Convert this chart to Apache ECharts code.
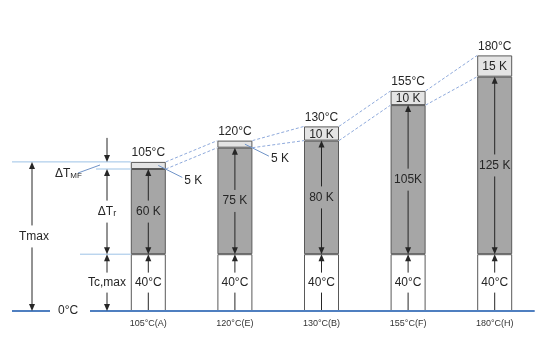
<!DOCTYPE html>
<html>
<head>
<meta charset="utf-8">
<script src="https://cdn.jsdelivr.net/npm/echarts@6/dist/echarts.min.js"></script>
<style>
html,body{margin:0;padding:0;background:#fff;}
#chart{width:550px;height:355px;}
</style>
</head>
<body>
<div id="chart"></div>
<script>
// data
var categories = ['105°C(A)', '120°C(E)', '130°C(B)', '155°C(F)', '180°C(H)'];
var coolant = [40, 40, 40, 40, 40];          // Tc,max
var rise = [60, 75, 80, 105, 125];           // ΔTr
var margin = [5, 5, 10, 10, 15];             // ΔTMF
var maxTemp = [105, 120, 130, 155, 180];     // Tmax
var riseLabels = ['60 K', '75 K', '80 K', '105K', '125 K'];
var marginLabels = ['5 K', '5 K', '10 K', '10 K', '15 K'];

var grayTop = rise.map(function (r, i) { return coolant[i] + r })

var FONT = 'Liberation Sans'
var TXT = '#262626'
var EDGE = '#595959'
var BLUE = '#4f7fc0'
var LIGHT_BLUE = '#9dc3e6'
var DASH = '#8faadc'
var HALF = 17.5

function head (x, y, dir) { // dir -1 = up, 1 = down, tip at (x,y)
  return { type: 'polygon', shape: { points: [[x, y], [x - 3, y - dir * 7], [x + 3, y - dir * 7]] }, style: { fill: TXT } }
}
function seg (x1, y1, x2, y2, color, w, dash) {
  return { type: 'line', shape: { x1: x1, y1: y1, x2: x2, y2: y2 }, style: { stroke: color || TXT, lineWidth: w || 1, lineDash: dash || null } }
}
function txt (x, y, s, align, size) {
  return { type: 'text', style: { text: s, x: x, y: y, align: align || 'center', verticalAlign: 'middle', font: (size || 12) + 'px ' + FONT, fill: TXT } }
}
// vertical line with a gap for a label
function gapLine (x, yA, yB, mid, g) {
  var top = Math.min(yA, yB), bot = Math.max(yA, yB)
  return [seg(x, top, x, mid - g), seg(x, mid + g, x, bot)]
}

var chart = echarts.init(document.getElementById('chart'))

var option = {
  backgroundColor: '#fff',
  animation: false,
  grid: { left: 105, right: 12, top: 27, bottom: 44 },
  xAxis: {
    type: 'category',
    data: categories,
    axisLine: { show: false },
    axisTick: { show: false },
    axisLabel: { fontSize: 9, fontFamily: FONT, color: '#333', margin: 8 }
  },
  yAxis: { type: 'value', min: 0, max: 200, show: false },
  series: [
    {
      name: 'Tc,max', type: 'bar', stack: 't', barWidth: 35, z: 2,
      itemStyle: { color: '#fff', borderColor: EDGE, borderWidth: 1 },
      data: coolant
    },
    {
      name: 'ΔTr', type: 'bar', stack: 't', barWidth: 35, z: 2,
      itemStyle: { color: '#a6a6a6', borderColor: EDGE, borderWidth: 1 },
      data: rise
    },
    {
      name: 'ΔTMF', type: 'bar', stack: 't', barWidth: 35, z: 2,
      itemStyle: { color: '#e4e4e4', borderColor: EDGE, borderWidth: 1 },
      label: {
        show: true, position: 'top', distance: 3,
        fontSize: 12, fontFamily: FONT, color: TXT,
        formatter: function (p) { return maxTemp[p.dataIndex] + '°C' }
      },
      data: margin
    },
    {
      // dashed lines between bar tops
      type: 'custom', z: 1, silent: true,
      data: [[0, 0], [1, 0], [2, 0], [3, 0]],
      renderItem: function (params, api) {
        var i = params.dataIndex
        var a1 = api.coord([i, maxTemp[i]]), b1 = api.coord([i + 1, maxTemp[i + 1]])
        var a2 = api.coord([i, grayTop[i]]), b2 = api.coord([i + 1, grayTop[i + 1]])
        return { type: 'group', children: [
          seg(a1[0] + HALF, a1[1], b1[0] - HALF, b1[1], DASH, 1, [3, 2]),
          seg(a2[0] + HALF, a2[1], b2[0] - HALF, b2[1], DASH, 1, [3, 2])
        ] }
      }
    },
    {
      // arrows and values inside the bars
      type: 'custom', z: 5, silent: true,
      data: categories.map(function (c, i) { return [i, 0] }),
      renderItem: function (params, api) {
        var i = params.dataIndex
        var p0 = api.coord([i, 0])
        var x = p0[0], y0 = p0[1]
        var y40 = api.coord([i, coolant[i]])[1]
        var yG = api.coord([i, grayTop[i]])[1]
        var yM = api.coord([i, maxTemp[i]])[1]
        var mW = (y0 + y40) / 2, mG = (y40 + yG) / 2, mT = (yG + yM) / 2
        var ch = []
        ch = ch.concat(gapLine(x, y0, y40 + 6, mW, 10))
        ch.push(head(x, y40, -1))
        ch = ch.concat(gapLine(x, yG + 6, y40 - 6, mG, 11))
        ch.push(head(x, yG, -1), head(x, y40, 1))
        ch.push(txt(x, mW, coolant[i] + '°C'))
        ch.push(txt(x, mG, riseLabels[i]))
        if (margin[i] >= 10) {
          ch.push(txt(x, mT + 1, marginLabels[i]))
        } else {
          ch.push(seg(x + 10, mT, x + 34, mT + 12, '#6f93c8', 1))
          ch.push(txt(x + 36, mT + 15, marginLabels[i], 'left'))
        }
        return { type: 'group', children: ch }
      }
    },
    {
      // left side explanation
      type: 'custom', z: 5, silent: true,
      data: [[0, 0]],
      renderItem: function (params, api) {
        var p0 = api.coord([0, 0])
        var y0 = p0[1]
        var barL = p0[0] - HALF
        var yMax = api.coord([0, maxTemp[0]])[1]
        var yG = api.coord([0, grayTop[0]])[1]
        var y40 = api.coord([0, coolant[0]])[1]
        var xR = api.coord([categories.length - 1, 0])[0] + 40
        var ax = 32, cx = 107
        var ch = [
          seg(12, yMax, barL, yMax, LIGHT_BLUE, 1),
          seg(96, yG, barL, yG, LIGHT_BLUE, 1),
          seg(80, y40, barL, y40, LIGHT_BLUE, 1),
          seg(12, y0, 50, y0, BLUE, 2),
          seg(90, y0, xR, y0, BLUE, 2)
        ]
        // Tmax
        ch = ch.concat(gapLine(ax, yMax + 6, y0 - 6, (yMax + y0) / 2, 11))
        ch.push(head(ax, yMax, -1), head(ax, y0, 1))
        ch.push(txt(ax + 2, (yMax + y0) / 2, 'Tmax'))
        // ΔTMF
        ch.push(seg(cx, yMax - 24, cx, yMax - 6), head(cx, yMax, 1), head(cx, yG, -1))
        ch.push(seg(78, yG + 4, 100, yG - 4, '#6f93c8', 1))
        ch.push({ type: 'text', style: {
          text: '{a|ΔT}{b|MF}', x: 55, y: yG + 5, align: 'left', verticalAlign: 'middle',
          rich: { a: { font: '12px ' + FONT, fill: TXT }, b: { font: '8px ' + FONT, fill: TXT, padding: [4, 0, 0, 0] } }
        } })
        // ΔTr
        var mG = (yG + y40) / 2
        ch = ch.concat(gapLine(cx, yG + 6, y40 - 6, mG, 11))
        ch.push(head(cx, y40, 1))
        ch.push({ type: 'text', style: {
          text: '{a|ΔT}{b|r}', x: cx, y: mG, align: 'center', verticalAlign: 'middle',
          rich: { a: { font: '12px ' + FONT, fill: TXT }, b: { font: '9px ' + FONT, fill: TXT, padding: [3, 0, 0, 0] } }
        } })
        // Tc,max
        var mW = (y40 + y0) / 2
        ch = ch.concat(gapLine(cx, y40 + 6, y0 - 6, mW, 10))
        ch.push(head(cx, y40, -1), head(cx, y0, 1))
        ch.push(txt(cx, mW, 'Tc,max'))
        ch.push(txt(58, y0, '0°C', 'left'))
        return { type: 'group', children: ch }
      }
    }
  ]
}

chart.setOption(option)
window.onresize = function () { chart.resize() }
</script>
</body>
</html>
